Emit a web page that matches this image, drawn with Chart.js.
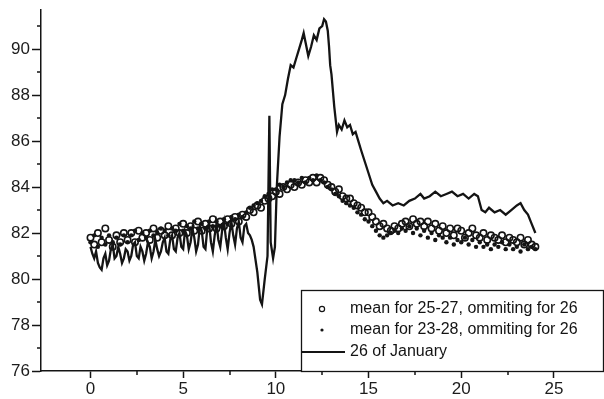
<!DOCTYPE html>
<html>
<head>
<meta charset="utf-8">
<script src="https://cdn.jsdelivr.net/npm/chart.js@4.4.0/dist/chart.umd.min.js"></script>
<style>
html,body{margin:0;padding:0;background:#fff;}
canvas{display:block;}
</style>
</head>
<body>
<canvas id="chart" width="604" height="399"></canvas>
<script>
// time axis of the two mean series (hours)
const meanHours = [
  0,0.2,0.4,0.6,0.8, 1,1.2,1.4,1.6,1.8, 2,2.2,2.4,2.6,2.8, 3,3.2,3.4,3.6,3.8,
  4,4.2,4.4,4.6,4.8, 5,5.2,5.4,5.6,5.8, 6,6.2,6.4,6.6,6.8, 7,7.2,7.4,7.6,7.8,
  8,8.2,8.4,8.6,8.8, 9,9.2,9.4,9.6,9.8, 10,10.2,10.4,10.6,10.8, 11,11.2,11.4,11.6,11.8,
  12,12.2,12.4,12.6,12.8, 13,13.2,13.4,13.6,13.8, 14,14.2,14.4,14.6,14.8, 15,15.2,15.4,15.6,15.8,
  16,16.2,16.4,16.6,16.8, 17,17.2,17.4,17.6,17.8, 18,18.2,18.4,18.6,18.8, 19,19.2,19.4,19.6,19.8,
  20,20.2,20.4,20.6,20.8, 21,21.2,21.4,21.6,21.8, 22,22.2,22.4,22.6,22.8, 23,23.2,23.4,23.6,23.8,
  24
];
// mean for 25-27, ommiting for 26 (open circles)
const mean2527 = [
  81.8,81.5,82.0,81.6,82.2, 81.7,81.4,81.9,81.6,82.0, 81.7,82.0,81.6,82.1,81.8, 82.0,81.7,82.2,81.8,82.1,
  81.9,82.3,81.9,82.2,82.0, 82.4,82.0,82.3,82.1,82.5, 82.1,82.4,82.2,82.6,82.2, 82.5,82.3,82.6,82.4,82.7,
  82.5,82.8,82.7,83.0,82.9, 83.2,83.1,83.4,83.5,83.6, 83.8,83.7,84.0,83.9,84.1, 84.0,84.2,84.1,84.3,84.2,
  84.4,84.2,84.4,84.3,84.1, 84.0,83.8,83.9,83.6,83.5, 83.5,83.3,83.2,83.1,82.9, 82.9,82.7,82.5,82.3,82.4,
  82.2,82.1,82.3,82.2,82.4, 82.5,82.3,82.6,82.4,82.5, 82.3,82.5,82.2,82.4,82.1, 82.3,82.0,82.2,81.9,82.2,
  82.1,81.8,82.0,82.2,81.9, 81.8,82.0,81.7,81.9,81.8, 81.7,81.9,81.6,81.8,81.7, 81.6,81.8,81.5,81.7,81.5,
  81.4
];
// mean for 23-28, ommiting for 26 (dots)
const mean2328 = [
  81.6,81.9,81.4,81.8,81.5, 81.9,81.6,81.8,81.5,81.9, 81.6,81.9,82.1,81.7,82.0, 81.8,82.1,81.9,82.0,82.2,
  82.1,81.9,82.2,82.1,82.4, 82.1,82.3,82.2,82.5,82.2, 82.4,82.2,82.5,82.3,82.5, 82.3,82.6,82.4,82.7,82.6,
  82.8,82.7,82.9,83.1,83.2, 83.3,83.4,83.6,83.7,83.9, 83.9,84.1,84.0,84.2,84.3, 84.3,84.2,84.4,84.2,84.4,
  84.3,84.5,84.3,84.2,84.0, 83.9,83.7,83.6,83.4,83.3, 83.2,83.1,82.9,82.8,82.6, 82.5,82.3,82.1,81.9,81.8,
  81.9,82.0,82.1,82.0,82.2, 82.1,82.3,82.0,82.2,81.9, 82.1,81.8,82.0,81.7,81.9, 81.8,81.6,81.8,81.5,81.7,
  81.6,81.8,81.5,81.7,81.4, 81.6,81.4,81.5,81.3,81.5, 81.4,81.6,81.3,81.5,81.3, 81.4,81.2,81.5,81.3,81.4,
  81.3
];
// 26 of January
const janHours = [
  0,0.1,0.2,0.3,0.4,0.5,0.6,0.7,0.8,0.9, 1,1.1,1.2,1.3,1.4,1.5,1.6,1.7,1.8,1.9,
  2,2.1,2.2,2.3,2.4,2.5,2.6,2.7,2.8,2.9, 3,3.1,3.2,3.3,3.4,3.5,3.6,3.7,3.8,3.9,
  4,4.1,4.2,4.3,4.4,4.5,4.6,4.7,4.8,4.9, 5,5.1,5.2,5.3,5.4,5.5,5.6,5.7,5.8,5.9,
  6,6.1,6.2,6.3,6.4,6.5,6.6,6.7,6.8,6.9, 7,7.1,7.2,7.3,7.4,7.5,7.6,7.7,7.8,7.9,
  8,8.1,8.2,8.3,8.4,8.5,8.6,8.7,8.8,
  9,9.15,9.25,9.4,9.55, 9.65,9.72,9.85,9.95,10.05, 10.2,10.35,10.5,10.65,10.8,
  10.95,11.1,11.25,11.4,11.5, 11.6,11.75,11.9,12.05,12.2, 12.35,12.5,12.6,12.7,12.8, 12.87,12.93,13,13.15,13.3,
  13.4,13.55,13.7,13.85,14, 14.15,14.3,14.45,14.6,14.8, 15,15.2,15.4,15.6,15.8, 16,16.3,16.6,16.9,17.2,
  17.5,17.8,18,18.3,18.6, 18.9,19.2,19.5,19.8,20.1, 20.4,20.7,20.9,21.1,21.3, 21.5,21.8,22.1,22.4,22.7,
  23,23.2,23.4,23.6,23.8, 24
];
const jan26 = [
  81.4,81.1,80.9,81.2,80.7,80.5,80.4,80.9,81.1,80.6, 80.8,81.3,81.5,80.9,81.0,81.4,81.1,80.7,80.9,81.3,
  81.2,80.8,81.0,81.5,81.6,81.0,80.9,81.4,81.2,80.8, 81.1,81.6,81.4,80.9,81.2,81.7,81.3,81.0,81.2,81.6,
  81.8,81.2,81.1,81.7,81.9,81.3,81.2,81.8,82.0,81.4, 81.3,82.1,81.9,81.3,81.6,82.2,81.8,81.2,81.5,82.3,
  82.1,81.4,81.3,82.2,82.4,81.6,81.2,81.9,82.4,81.7, 81.4,82.1,82.5,81.8,81.3,82.0,82.5,81.9,81.5,82.2,
  82.5,81.8,81.6,82.3,82.4,82.0,81.9,81.7,81.4,
  80.3,79.1,78.9,80.0,81.0, 87.1,81.6,80.9,81.4,84.0, 86.2,87.6,88.0,88.7,89.3,
  89.2,89.6,90.0,90.4,90.7, 90.3,89.7,90.1,90.6,90.4, 90.9,91.0,91.3,91.2,90.8, 90.1,89.3,88.9,87.5,86.4,
  86.7,86.5,86.9,86.6,86.7, 86.3,86.4,86.0,85.6,85.1, 84.6,84.1,83.8,83.5,83.3, 83.4,83.2,83.3,83.2,83.4,
  83.5,83.7,83.5,83.6,83.8, 83.6,83.7,83.8,83.6,83.7, 83.5,83.7,83.6,83.0,82.9, 83.1,82.9,83.0,82.8,83.0,
  83.2,83.3,83.0,82.8,82.4, 82.0
];
const seriesLabels = ['mean for 25-27, ommiting for 26', 'mean for 23-28, ommiting for 26', '26 of January'];
const xTickValues = [0, 5, 10, 15, 20, 25];
const xMinorTicks = [2.5, 7.5, 12.5, 17.5, 22.5];
const yTickValues = [76, 78, 80, 82, 84, 86, 88, 90];
const yMinorTicks = [77, 79, 81, 83, 85, 87, 89, 91];

const ink = '#141414';
const toPoints = (xs, ys) => xs.map((x, i) => ({x: x, y: ys[i]}));

// minor ticks + boxed legend in the lower right corner
const extras = {
  id: 'extras',
  afterDatasetsDraw(chart){
    const {ctx, chartArea, scales} = chart;
    ctx.save();
    ctx.strokeStyle = ink; ctx.lineWidth = 1.5;
    ctx.beginPath();
    xMinorTicks.forEach(v => { const px = Math.round(scales.x.getPixelForValue(v)); ctx.moveTo(px, chartArea.bottom); ctx.lineTo(px, chartArea.bottom + 4); });
    yMinorTicks.forEach(v => { const py = Math.round(scales.y.getPixelForValue(v)); ctx.moveTo(chartArea.left, py); ctx.lineTo(chartArea.left - 4, py); });
    ctx.stroke();

    // legend
    const bx = 301, by = 290, bw = 302, bh = chartArea.bottom - by;
    ctx.fillStyle = '#fff';
    ctx.fillRect(bx, by, bw, bh);
    ctx.lineWidth = 1.3;
    ctx.strokeRect(bx + 0.5, by + 0.5, bw, bh);
    ctx.font = '16px Arial, "Liberation Sans", sans-serif';
    ctx.textBaseline = 'middle';
    ctx.fillStyle = ink;
    const rows = [309, 330, 352];
    ctx.beginPath(); ctx.arc(322, rows[0], 2.6, 0, Math.PI * 2); ctx.lineWidth = 1.2; ctx.stroke();
    ctx.beginPath(); ctx.arc(322, rows[1], 1.6, 0, Math.PI * 2); ctx.fill();
    ctx.beginPath(); ctx.moveTo(302, rows[2]); ctx.lineTo(345, rows[2]); ctx.lineWidth = 2.2; ctx.stroke();
    seriesLabels.forEach((t, i) => ctx.fillText(t, 350, rows[i]));
    ctx.restore();
  }
};

new Chart(document.getElementById('chart'), {
  type: 'scatter',
  data: {
    datasets: [
      { label: seriesLabels[2], data: toPoints(janHours, jan26), showLine: true, borderColor: ink, borderWidth: 2.3, pointRadius: 0, tension: 0, order: 0 },
      { label: seriesLabels[1], data: toPoints(meanHours, mean2328), showLine: false, pointRadius: 2.2, pointBorderWidth: 0, backgroundColor: ink, borderColor: ink, order: 1 },
      { label: seriesLabels[0], data: toPoints(meanHours, mean2527), showLine: false, pointRadius: 3.2, pointBorderWidth: 1.6, backgroundColor: 'rgba(255,255,255,0)', borderColor: ink, order: 2 }
    ]
  },
  options: {
    responsive: false,
    animation: false,
    devicePixelRatio: 1,
    layout: { padding: { top: 10, left: 0, right: 0, bottom: 0 } },
    plugins: { legend: { display: false }, tooltip: { enabled: false } },
    scales: {
      x: {
        type: 'linear', min: -2.67, max: 27.4,
        afterBuildTicks: s => { s.ticks = xTickValues.map(v => ({value: v})); },
        afterFit: s => { s.height = 28; s.paddingLeft = 0; s.paddingRight = 0; },
        grid: { drawOnChartArea: false, drawTicks: true, tickLength: 7, tickColor: ink, tickWidth: 1.5 },
        border: { color: ink, width: 1.5 },
        ticks: { color: '#1c1c1c', font: { family: 'Arial, "Liberation Sans", sans-serif', size: 17 }, padding: 1, maxRotation: 0 }
      },
      y: {
        type: 'linear', min: 76, max: 91.7,
        afterBuildTicks: s => { s.ticks = yTickValues.map(v => ({value: v})); },
        afterFit: s => { s.width = 41; s.paddingTop = 0; s.paddingBottom = 0; },
        grid: { drawOnChartArea: false, drawTicks: true, tickLength: 9, tickColor: ink, tickWidth: 1.5 },
        border: { color: ink, width: 1.5 },
        ticks: { color: '#1c1c1c', font: { family: 'Arial, "Liberation Sans", sans-serif', size: 17 }, padding: 2 }
      }
    }
  },
  plugins: [extras]
});
</script>
</body>
</html>
